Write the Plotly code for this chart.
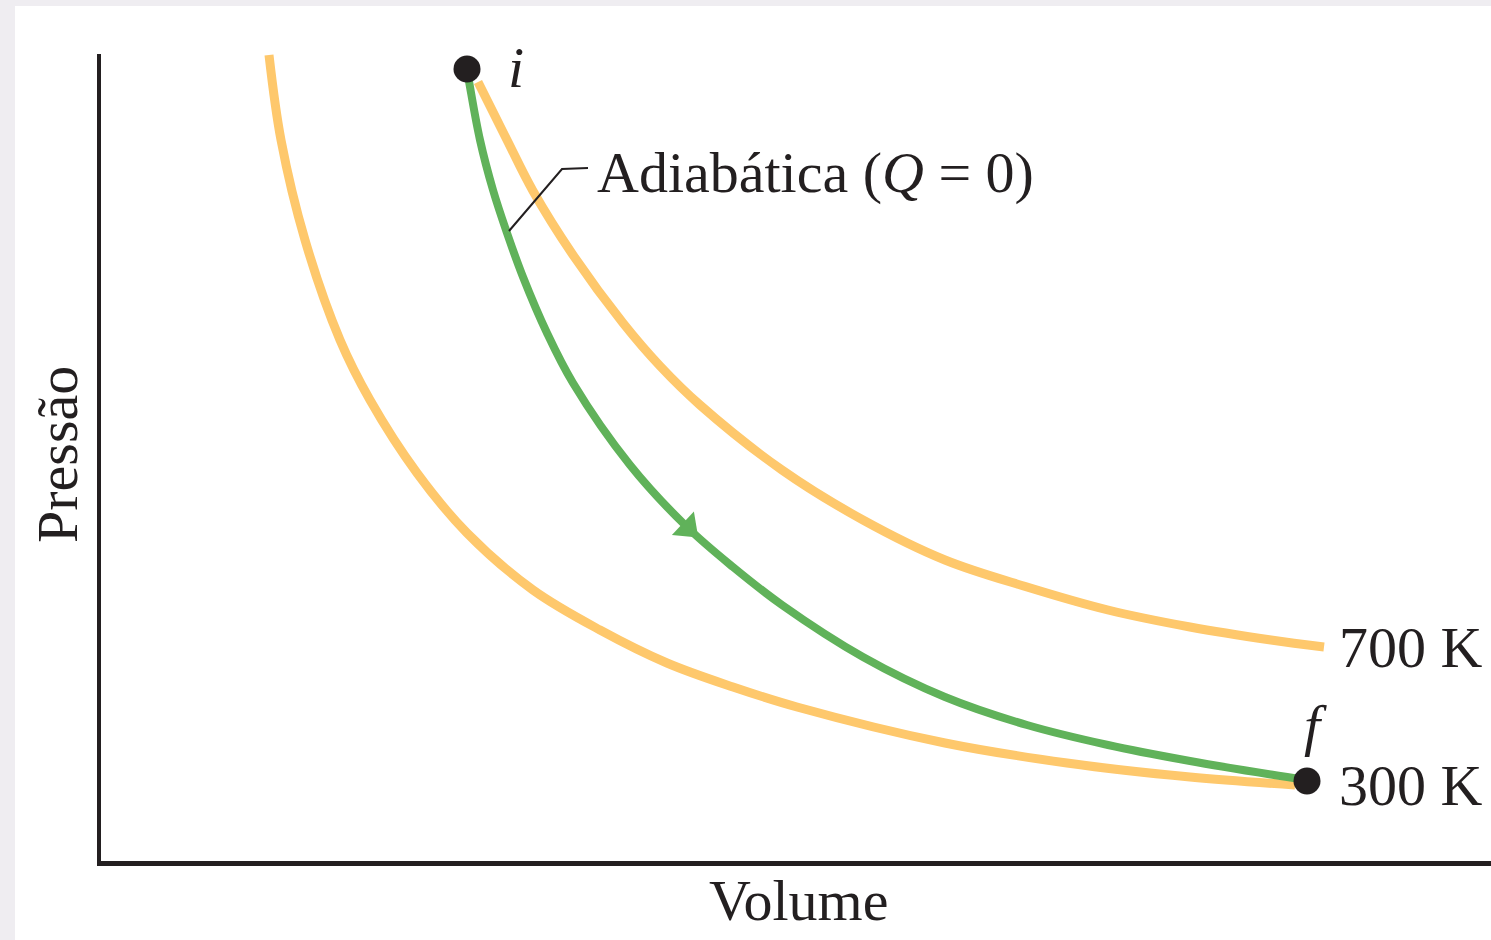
import plotly.graph_objects as go

# isoterma de 300 K (volume, pressao)
v_300 = [1.70, 1.82, 2.06, 2.41, 2.71, 3.18, 3.68, 4.34, 5.01, 5.68, 6.34, 6.98, 8.46, 9.68, 10.91, 11.96]
p_300 = [8.08, 7.23, 6.23, 5.23, 4.63, 3.90, 3.30, 2.73, 2.33, 2.00, 1.76, 1.56, 1.20, 1.00, 0.86, 0.78]

# isoterma de 700 K
v_700 = [3.79, 4.08, 4.34, 4.74, 5.24, 5.61, 6.01, 6.83, 7.64, 8.46, 9.28, 10.09, 10.91, 11.72, 12.25]
p_700 = [7.81, 7.23, 6.72, 6.08, 5.40, 4.97, 4.58, 3.93, 3.43, 3.03, 2.76, 2.53, 2.36, 2.23, 2.16]

# adiabatica de i ate f
v_adi = [3.68, 3.71, 3.81, 3.94, 4.08, 4.24, 4.48, 4.74, 5.31, 5.88, 6.34, 6.83, 7.64, 8.46, 9.28, 10.09, 10.91, 11.72, 12.08]
p_adi = [7.94, 7.76, 7.23, 6.73, 6.30, 5.86, 5.30, 4.80, 3.98, 3.36, 2.96, 2.58, 2.06, 1.66, 1.38, 1.18, 1.02, 0.885, 0.83]

estados = ["i", "f"]
v_estados = [3.68, 12.08]
p_estados = [7.94, 0.82]

seta_v = [5.89]
seta_p = [3.35]

LARANJA = "#fec86c"
VERDE = "#60b25a"
PRETO = "#231f20"
FONTE = "Liberation Serif"

fig = go.Figure()

fig.add_trace(go.Scatter(x=v_300, y=p_300, mode="lines", name="300 K",
                         line=dict(color=LARANJA, width=9, shape="spline", smoothing=1.0)))
fig.add_trace(go.Scatter(x=v_700, y=p_700, mode="lines", name="700 K",
                         line=dict(color=LARANJA, width=9, shape="spline", smoothing=1.0)))
fig.add_trace(go.Scatter(x=v_adi, y=p_adi, mode="lines", name="Adiabática",
                         line=dict(color=VERDE, width=8, shape="spline", smoothing=1.0)))
fig.add_trace(go.Scatter(x=seta_v, y=seta_p, mode="markers", name="seta",
                         marker=dict(symbol="triangle-up", size=28, angle=133, color=VERDE)))
fig.add_trace(go.Scatter(x=v_estados, y=p_estados, mode="markers", name="estados",
                         marker=dict(size=27, color=PRETO)))

# fundo branco com borda cinza (esquerda e topo)
fig.add_shape(type="rect", x0=-0.84, x1=13.92, y0=-0.77, y1=8.57,
              fillcolor="white", line_width=0, layer="below")

# eixos
fig.add_shape(type="line", x0=-0.02, x1=13.92, y0=-0.005, y1=-0.005,
              line=dict(color=PRETO, width=5))
fig.add_shape(type="line", x0=0, x1=0, y0=-0.03, y1=8.09,
              line=dict(color=PRETO, width=4))

# linha de chamada da adiabatica
fig.add_shape(type="path", path="M 4.10 6.32 L 4.63 6.94 L 4.89 6.95",
              line=dict(color=PRETO, width=2))

texto = dict(family=FONTE, size=58, color=PRETO)
fig.add_annotation(x=-0.42, y=4.08, text="Pressão", textangle=-90, showarrow=False, font=texto)
fig.add_annotation(x=6.99, y=-0.37, text="Volume", showarrow=False, font=texto)
fig.add_annotation(x=12.38, y=2.16, text="700 K", xanchor="left", showarrow=False, font=texto)
fig.add_annotation(x=12.38, y=0.78, text="300 K", xanchor="left", showarrow=False, font=texto)
fig.add_annotation(x=4.96, y=6.91, text="Adiabática (<i>Q</i> = 0)", xanchor="left",
                   showarrow=False, font=texto)
fig.add_annotation(x=4.17, y=7.96, text="<i>" + estados[0] + "</i>", showarrow=False, font=texto)
fig.add_annotation(x=12.16, y=1.38, text="<i>" + estados[1] + "</i>", showarrow=False, font=texto)

fig.update_xaxes(range=[-0.99, 13.92], visible=False, fixedrange=True)
fig.update_yaxes(range=[-0.77, 8.63], visible=False, fixedrange=True)

fig.update_layout(
    width=1491,
    height=940,
    margin=dict(l=0, r=0, t=0, b=0),
    paper_bgcolor="#efedf1",
    plot_bgcolor="rgba(0,0,0,0)",
    showlegend=False,
)

fig.write_html("out.html", config={"displayModeBar": False},
               post_script="document.body.style.margin='0';document.body.style.overflow='hidden';")
